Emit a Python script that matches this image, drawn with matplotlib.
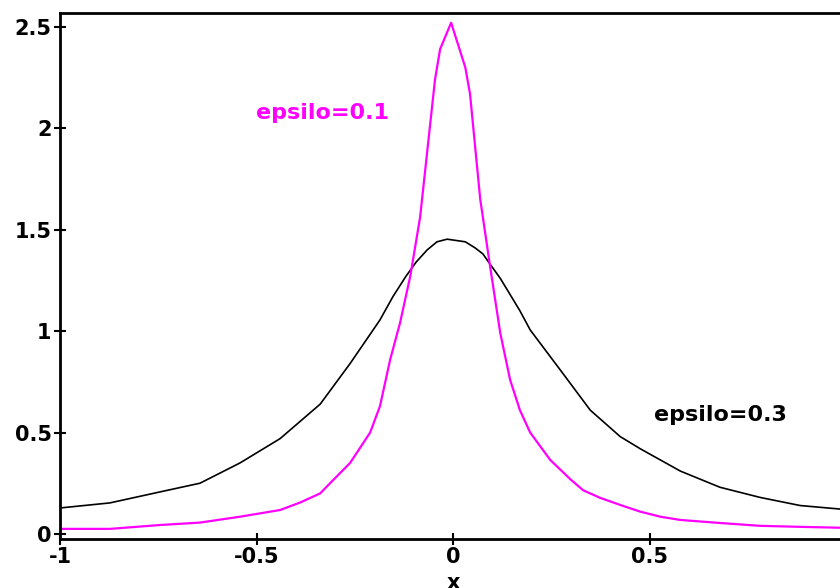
import matplotlib
matplotlib.use("Agg")
import matplotlib.pyplot as plt

# curve for epsilo=0.3 (black)
x_03 = [-1.0, -0.873, -0.746, -0.644, -0.542, -0.44, -0.338, -0.262, -0.186, -0.153,
        -0.12, -0.094, -0.066, -0.041, -0.015, 0.031, 0.056, 0.076, 0.094, 0.120,
        0.145, 0.170, 0.196, 0.272, 0.349, 0.425, 0.476, 0.578, 0.679, 0.781,
        0.883, 1.0]
y_03 = [0.128, 0.153, 0.207, 0.25, 0.35, 0.47, 0.64, 0.84, 1.055, 1.17,
        1.27, 1.34, 1.40, 1.44, 1.453, 1.44, 1.41, 1.38, 1.33, 1.26,
        1.18, 1.10, 1.006, 0.81, 0.61, 0.48, 0.42, 0.31, 0.23, 0.18,
        0.14, 0.12]

# curve for epsilo=0.1 (magenta)
x_01 = [-1.0, -0.873, -0.746, -0.644, -0.542, -0.44, -0.389, -0.338, -0.313, -0.262,
        -0.211, -0.186, -0.16, -0.135, -0.109, -0.084, -0.046, -0.033, -0.005, 0.031,
        0.043, 0.069, 0.094, 0.12, 0.145, 0.17, 0.196, 0.247, 0.298, 0.331,
        0.374, 0.425, 0.476, 0.527, 0.578, 0.679, 0.781, 0.883, 1.0]
y_01 = [0.025, 0.025, 0.044, 0.056, 0.085, 0.118, 0.155, 0.20, 0.25, 0.35,
        0.50, 0.63, 0.86, 1.04, 1.27, 1.56, 2.24, 2.39, 2.52, 2.30,
        2.17, 1.65, 1.32, 0.99, 0.76, 0.61, 0.50, 0.365, 0.27, 0.215,
        0.178, 0.143, 0.11, 0.085, 0.069, 0.054, 0.04, 0.035, 0.03]

xticks = [-1, -0.5, 0, 0.5, 1]
xtick_labels = ["-1", "-0.5", "0", "0.5", "1"]
yticks = [0, 0.5, 1, 1.5, 2, 2.5]
ytick_labels = ["0", "0.5", "1", "1.5", "2", "2.5"]

fig = plt.figure(figsize=(8.4, 5.88), dpi=100)
ax = fig.add_axes([0.0714, 0.0833, 0.936, 0.895])

ax.plot(x_03, y_03, c='k', lw=1.2)
ax.plot(x_01, y_01, c='#ff00ff', lw=1.6)

ax.set_xlim(-1, 1)
ax.set_ylim(-0.025, 2.569)

ax.set_xticks(xticks)
ax.set_xticklabels(xtick_labels, fontsize=15, fontweight='bold')
ax.set_yticks(yticks)
ax.set_yticklabels(ytick_labels, fontsize=15, fontweight='bold')
ax.tick_params(direction='inout', length=8, width=1.5, pad=2)

for s in ['left', 'bottom', 'top', 'right']:
    ax.spines[s].set_linewidth(2)

ax.set_xlabel('x', fontsize=15, fontweight='bold', labelpad=4)

ax.text(-0.333, 2.076, 'epsilo=0.1', color='#ff00ff', fontsize=16, fontweight='bold',
        ha='center', va='center')
ax.text(0.679, 0.587, 'epsilo=0.3', color='k', fontsize=16, fontweight='bold',
        ha='center', va='center')

fig.savefig('out.png', dpi=100)
